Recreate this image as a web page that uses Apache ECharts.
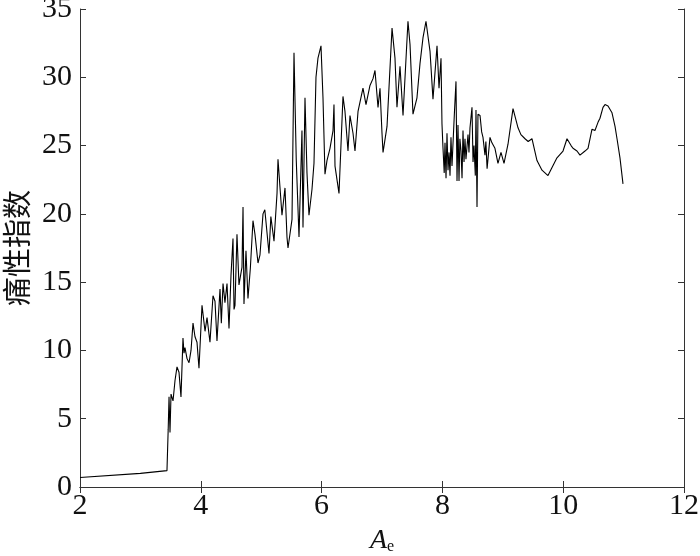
<!DOCTYPE html>
<html>
<head>
<meta charset="utf-8">
<script src="https://cdn.jsdelivr.net/npm/echarts@6/dist/echarts.min.js"></script>
<style>html,body{margin:0;padding:0;background:#fff}#c{width:700px;height:556px}</style>
</head>
<body>
<div id="c"></div>
<script>
const xTicks = [2, 4, 6, 8, 10, 12];
const yTicks = [0, 5, 10, 15, 20, 25, 30, 35];
const xName = 'A';
const xSub = 'e';
const yName = '痛性指数';
const aeValues = [
  2.0, 3.0, 3.44, 3.46, 3.474, 3.49, 3.507, 3.54, 3.573, 3.606,
  3.639, 3.672, 3.705, 3.722, 3.738, 3.772, 3.805, 3.838, 3.871, 3.904,
  3.937, 3.97, 4.02, 4.07, 4.103, 4.152, 4.202, 4.235, 4.268, 4.318,
  4.34, 4.368, 4.40, 4.434, 4.467, 4.5, 4.533, 4.55, 4.566, 4.599,
  4.632, 4.682, 4.699, 4.715, 4.748, 4.781, 4.82, 4.864, 4.897, 4.947,
  4.98, 5.03, 5.06, 5.129, 5.16, 5.212, 5.262, 5.278, 5.31, 5.344,
  5.394, 5.427, 5.444, 5.51, 5.543, 5.58, 5.626, 5.675, 5.692, 5.725,
  5.758, 5.791, 5.841, 5.874, 5.907, 5.94, 5.99, 6.023, 6.056, 6.089,
  6.139, 6.189, 6.205, 6.222, 6.288, 6.354, 6.387, 6.437, 6.47, 6.52,
  6.553, 6.603, 6.685, 6.735, 6.801, 6.851, 6.884, 6.934, 6.967, 7.0,
  7.017, 7.083, 7.166, 7.215, 7.248, 7.298, 7.348, 7.43, 7.464, 7.513,
  7.579, 7.629, 7.679, 7.728, 7.795, 7.844, 7.911, 7.944, 7.977, 7.993,
  8.01, 8.03, 8.043, 8.06, 8.076, 8.093, 8.11, 8.126, 8.142, 8.159,
  8.175, 8.2, 8.225, 8.242, 8.258, 8.275, 8.29, 8.308, 8.325, 8.341,
  8.358, 8.374, 8.39, 8.424, 8.44, 8.457, 8.49, 8.507, 8.523, 8.545,
  8.556, 8.573, 8.589, 8.623, 8.65, 8.672, 8.705, 8.72, 8.74, 8.788,
  8.82, 8.87, 8.92, 8.97, 9.02, 9.086, 9.169, 9.2, 9.252, 9.3,
  9.368, 9.42, 9.483, 9.566, 9.649, 9.748, 9.815, 9.897, 9.997, 10.063,
  10.13, 10.162, 10.228, 10.278, 10.361, 10.411, 10.477, 10.526, 10.576, 10.609,
  10.659, 10.692, 10.742, 10.808, 10.858, 10.891, 10.94, 10.99
];
const indexValues = [
  0.7, 1.0, 1.2, 4.2, 6.6, 4.0, 6.8, 6.3, 7.8, 8.8,
  8.4, 6.6, 10.9, 9.8, 10.2, 9.4, 9.1, 10.0, 12.0, 11.0,
  10.6, 8.7, 13.3, 11.4, 12.4, 10.6, 14.0, 13.6, 10.7, 14.5,
  12.0, 14.9, 13.5, 14.9, 11.6, 15.5, 18.2, 13.0, 13.3, 18.5,
  14.8, 16.1, 20.5, 13.4, 17.3, 13.8, 16.0, 19.5, 18.5, 16.4,
  17.0, 20.0, 20.3, 17.1, 19.8, 18.0, 21.5, 24.0, 22.0, 19.9,
  21.9, 18.3, 17.5, 19.6, 31.8, 24.0, 18.3, 26.1, 19.0, 28.5,
  23.0, 19.9, 21.8, 23.7, 30.0, 31.4, 32.3, 28.5, 22.9, 23.9,
  24.8, 26.1, 28.0, 23.5, 21.5, 28.6, 27.5, 24.6, 27.2, 25.9,
  24.6, 27.5, 29.2, 28.0, 29.4, 29.9, 30.5, 27.8, 29.2, 25.9,
  24.5, 26.4, 33.6, 31.4, 27.8, 30.8, 27.2, 34.1, 32.4, 27.3,
  28.5, 31.0, 32.9, 34.1, 31.9, 28.4, 32.3, 29.2, 31.4, 26.6,
  24.8, 23.0, 25.2, 22.6, 25.9, 23.2, 24.5, 22.8, 25.6, 23.5,
  25.1, 27.5, 29.7, 22.4, 26.5, 22.4, 25.5, 24.6, 22.6, 26.1,
  23.8, 25.5, 24.0, 25.8, 24.5, 26.3, 27.8, 23.8, 25.0, 22.8,
  27.6, 20.5, 27.3, 27.2, 26.0, 25.6, 24.3, 25.3, 23.3, 25.6,
  25.2, 24.8, 23.7, 24.5, 23.7, 25.1, 27.7, 27.6, 26.3, 25.8,
  25.5, 25.3, 25.5, 23.9, 23.2, 22.8, 23.4, 24.1, 24.6, 25.5,
  25.0, 24.8, 24.6, 24.3, 24.6, 24.8, 26.2, 26.1, 26.7, 27.0,
  27.8, 28.0, 27.9, 27.4, 26.4, 25.5, 24.1, 22.2
];

const seriesData = aeValues.map((x, i) => [x, indexValues[i]]);
const chart = echarts.init(document.getElementById('c'), null, {renderer: 'canvas'});
const axisColor = '#333';
const serif = '"Liberation Serif", "Times New Roman", serif';
const labelFont = {fontFamily: serif, fontSize: 30, color: '#111'};
chart.setOption({
  animation: false,
  backgroundColor: '#fff',
  grid: {left: 80, right: 16, top: 9, bottom: 69, containLabel: false, outerBoundsMode: 'none'},
  xAxis: [{
    type: 'value', min: xTicks[0], max: xTicks[xTicks.length - 1], interval: 2,
    axisLine: {show: true, lineStyle: {color: axisColor, width: 1}},
    axisTick: {show: true, inside: true, length: 6, lineStyle: {color: axisColor}},
    splitLine: {show: false},
    axisLabel: Object.assign({margin: 4}, labelFont),
    name: '{a|' + xName + '}{s|' + xSub + '}',
    nameLocation: 'middle', nameGap: 40,
    nameTextStyle: {rich: {
      a: {fontFamily: serif, fontStyle: 'italic', fontSize: 28, color: '#111'},
      s: {fontFamily: serif, fontSize: 16, color: '#111', verticalAlign: 'bottom', padding: [12, 0, 0, 0]}
    }}
  }, {
    type: 'value', position: 'top', min: xTicks[0], max: xTicks[xTicks.length - 1], interval: 2,
    axisLine: {show: true, lineStyle: {color: axisColor, width: 1}},
    axisTick: {show: true, inside: true, length: 6, lineStyle: {color: axisColor}},
    axisLabel: {show: false}, splitLine: {show: false}
  }],
  yAxis: [{
    type: 'value', min: yTicks[0], max: yTicks[yTicks.length - 1], interval: 5,
    axisLine: {show: true, lineStyle: {color: axisColor, width: 1}},
    axisTick: {show: true, inside: true, length: 6, lineStyle: {color: axisColor}},
    splitLine: {show: false},
    axisLabel: Object.assign({margin: 8}, labelFont),
    name: yName, nameLocation: 'middle', nameGap: 46, nameRotate: 90,
    nameTextStyle: {fontFamily: '"Noto Sans CJK SC", sans-serif', fontSize: 29, color: '#111'}
  }, {
    type: 'value', position: 'right', min: yTicks[0], max: yTicks[yTicks.length - 1], interval: 5,
    axisLine: {show: true, lineStyle: {color: axisColor, width: 1}},
    axisTick: {show: true, inside: true, length: 6, lineStyle: {color: axisColor}},
    axisLabel: {show: false}, splitLine: {show: false}
  }],
  series: [{
    type: 'line', data: seriesData, showSymbol: false, symbol: 'none',
    lineStyle: {color: '#000', width: 1.1}, xAxisIndex: 0, yAxisIndex: 0
  }]
});
</script>
</body>
</html>
